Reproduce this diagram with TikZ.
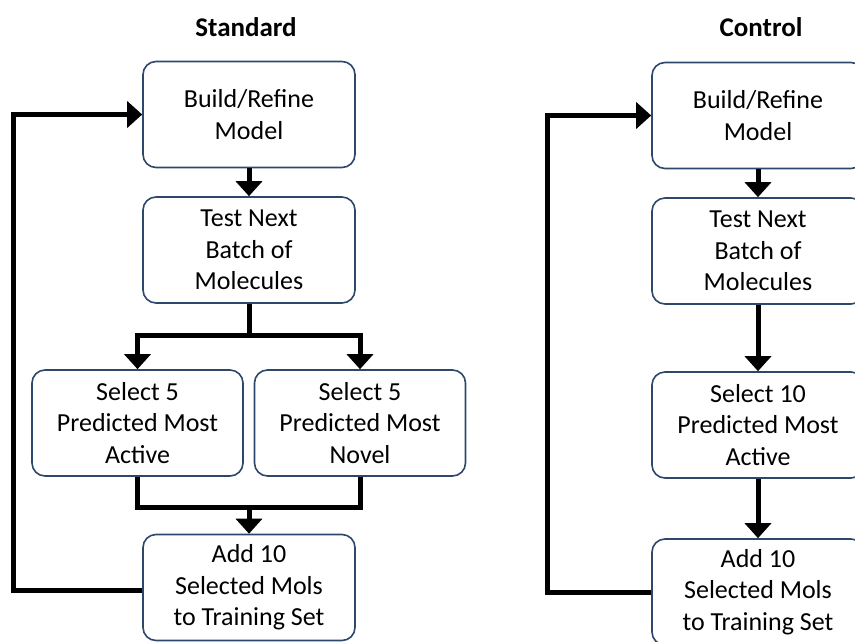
\documentclass[tikz,border=0pt]{standalone}
\usepackage{fontspec}
\setmainfont{Carlito}
\usetikzlibrary{arrows.meta}
\definecolor{boxline}{RGB}{46,72,108}
\begin{document}
\begin{tikzpicture}[x=1pt,y=-1pt,
  stepbox/.style={draw=boxline, line width=1.6pt, rounded corners=13pt, fill=white,
    minimum width=212pt, minimum height=106pt, inner sep=0pt, align=center,
    font=\fontsize{26}{31.5}\selectfont},
  titletext/.style={font=\fontsize{27}{32}\selectfont\bfseries},
  flow/.style={line width=5pt, -{Triangle[length=15pt,width=26pt]}},
  plainflow/.style={line width=5pt}]
\useasboundingbox (0,0) rectangle (855,641);
\clip (0,0) rectangle (855,641);
% ---- Standard ----
\node[titletext] (tS) at (246,27) {Standard};
\node[stepbox] (b1) at (249,114.5) {Build/Refine\\Model};
\node[stepbox] (t1) at (249,250) {Test Next\\Batch of\\Molecules};
\node[stepbox, minimum width=211pt] (a1) at (137.5,423) {Select 5\\Predicted Most\\Active};
\node[stepbox, minimum width=211pt] (n1) at (360,423) {Select 5\\Predicted Most\\Novel};
\node[stepbox] (d1) at (249,587.5) {Add 10\\Selected Mols\\to Training Set};
\coordinate (split1) at (249,335);
\coordinate (merge1) at (249,507);
\coordinate (fbS1) at (13,590);
\coordinate (fbS2) at (13,114.5);
\draw[flow] (b1.south) -- (t1.north);
\draw[plainflow] (t1.south) -- (split1);
\draw[flow, line join=miter] (split1) -| (a1.north);
\draw[flow, line join=miter] (split1) -| (n1.north);
\draw[plainflow, line join=miter] (a1.south) |- (merge1);
\draw[plainflow, line join=miter] (n1.south) |- (merge1);
\draw[flow] (merge1) -- (d1.north);
\draw[flow, line join=miter] (d1.west |- fbS1) -- (fbS1) -- (fbS2) -- (b1.west);
% ---- Control ----
\node[titletext] (tC) at (761,27) {Control};
\node[stepbox] (b2) at (758,115.5) {Build/Refine\\Model};
\node[stepbox] (t2) at (758,251) {Test Next\\Batch of\\Molecules};
\node[stepbox] (s2) at (758,425) {Select 10\\Predicted Most\\Active};
\node[stepbox] (d2) at (758,592) {Add 10\\Selected Mols\\to Training Set};
\coordinate (fbC1) at (547,592);
\coordinate (fbC2) at (547,115.5);
\draw[flow] (b2.south) -- (t2.north);
\draw[flow] (t2.south) -- (s2.north);
\draw[flow] (s2.south) -- (d2.north);
\draw[flow, line join=miter] (d2.west) -- (fbC1) -- (fbC2) -- (b2.west);
\end{tikzpicture}
\end{document}
